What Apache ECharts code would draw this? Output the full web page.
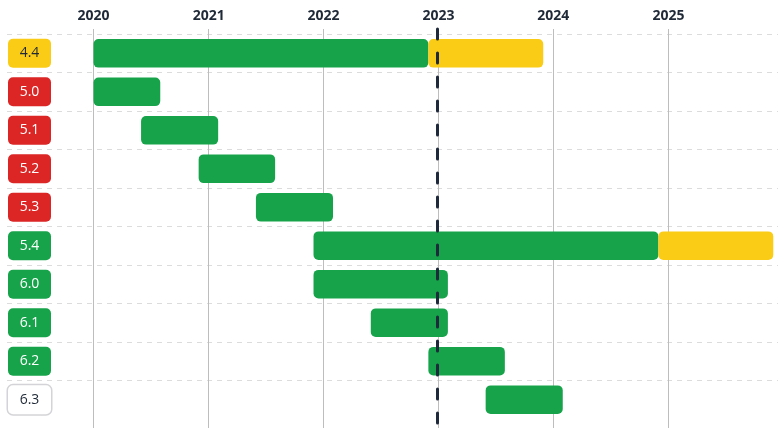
<!DOCTYPE html>
<html>
<head>
<meta charset="utf-8">
<script src="https://cdn.jsdelivr.net/npm/echarts@6/dist/echarts.min.js"></script>
<style>
  html, body { margin: 0; padding: 0; background: #fff; }
  #chart { width: 783px; height: 428px; }
</style>
</head>
<body>
<div id="chart"></div>
<script>
// release rows, top to bottom
const versions = ["4.4", "5.0", "5.1", "5.2", "5.3", "5.4", "6.0", "6.1", "6.2", "6.3"];
// badge state: security = yellow, eol = red, active = green, future = white
const states = ["security", "eol", "eol", "eol", "eol", "active", "active", "active", "active", "future"];
const starts = ["2020-01-01", "2020-01-01", "2020-05-31", "2020-11-30", "2021-05-31",
                "2021-11-30", "2021-11-30", "2022-05-31", "2022-11-30", "2023-05-31"];
const bugfixEnds = ["2022-11-30", "2020-07-31", "2021-01-31", "2021-07-31", "2022-01-31",
                    "2024-11-30", "2023-01-31", "2023-01-31", "2023-07-31", "2024-01-31"];
const securityEnds = ["2023-11-30", null, null, null, null, "2025-11-30", null, null, null, null];
const yearTicks = ["2020-01-01", "2021-01-01", "2022-01-01", "2023-01-01", "2024-01-01", "2025-01-01"];
const today = "2022-12-28";

const rowEdges = [-0.5, 0.5, 1.5, 2.5, 3.5, 4.5, 5.5, 6.5, 7.5, 8.5];
const rowIndex = versions.map((v, i) => i);

const t = (d) => +echarts.time.parse(d);

const badgeStyles = {
  security: { backgroundColor: "#facc15", color: "#1f2937" },
  eol: { backgroundColor: "#dc2626", color: "#ffffff" },
  active: { backgroundColor: "#16a34a", color: "#ffffff" },
  future: { backgroundColor: "#ffffff", color: "#1f2937", borderColor: "#d4d4d8", borderWidth: 1.5 },
};
const rich = {};
Object.keys(badgeStyles).forEach((k) => {
  rich[k] = Object.assign({
    width: 43, height: 29, align: "center", verticalAlign: "middle",
    borderRadius: 5, fontSize: 14, fontFamily: "Open Sans",
  }, badgeStyles[k]);
});

const bugfixData = versions.map((v, i) => [t(starts[i]), t(bugfixEnds[i]), i]);
const securityData = [];
versions.forEach((v, i) => {
  if (securityEnds[i]) securityData.push([t(bugfixEnds[i]), t(securityEnds[i]), i]);
});

function renderBar(params, api) {
  const a = api.coord([api.value(0), api.value(2)]);
  const b = api.coord([api.value(1), api.value(2)]);
  const h = api.size([0, 1])[1] * 0.745;
  return {
    type: "rect",
    shape: { x: a[0], y: a[1] - h / 2, width: b[0] - a[0], height: h, r: 5 },
    style: { fill: api.visual("color") },
  };
}

const chart = echarts.init(document.getElementById("chart"));
const tickTimes = yearTicks.map(t);

chart.setOption({
  animation: false,
  grid: { left: 7, right: 5, top: 29, bottom: 0 },
  xAxis: {
    type: "value",
    position: "top",
    min: t("2019-04-01"),
    max: t("2025-12-15"),
    axisLine: { show: false },
    axisTick: { show: false, customValues: tickTimes },
    splitLine: { show: true, lineStyle: { color: "#bdbdbd", width: 1 } },
    axisLabel: {
      customValues: tickTimes,
      formatter: (v) => String(new Date(v).getFullYear()),
      fontWeight: "bold",
      fontSize: 14,
      color: "#1f2937",
      fontFamily: "Open Sans",
      margin: 6,
    },
  },
  yAxis: {
    type: "value",
    inverse: true,
    min: -0.63,
    max: 9.734,
    axisLine: { show: false },
    axisTick: { show: false, customValues: rowEdges },
    splitLine: { show: true, lineStyle: { color: "#dcdcdc", type: [5, 5] } },
    axisLabel: {
      inside: true,
      margin: 1,
      customValues: rowIndex,
      formatter: (v) => `{${states[v]}|${versions[v]}}`,
      rich: rich,
    },
  },
  series: [
    {
      name: "Bug fixes",
      type: "custom",
      renderItem: renderBar,
      itemStyle: { color: "#16a34a" },
      encode: { x: [0, 1], y: 2 },
      data: bugfixData,
      markLine: {
        silent: true,
        symbol: "none",
        label: { show: false },
        lineStyle: { color: "#1e293b", width: 3, type: [10, 14], cap: "round" },
        data: [{ xAxis: t(today) }],
      },
      z: 2,
    },
    {
      name: "Security fixes",
      type: "custom",
      renderItem: renderBar,
      itemStyle: { color: "#facc15" },
      encode: { x: [0, 1], y: 2 },
      data: securityData,
      z: 2,
    },
  ],
});
</script>
</body>
</html>
